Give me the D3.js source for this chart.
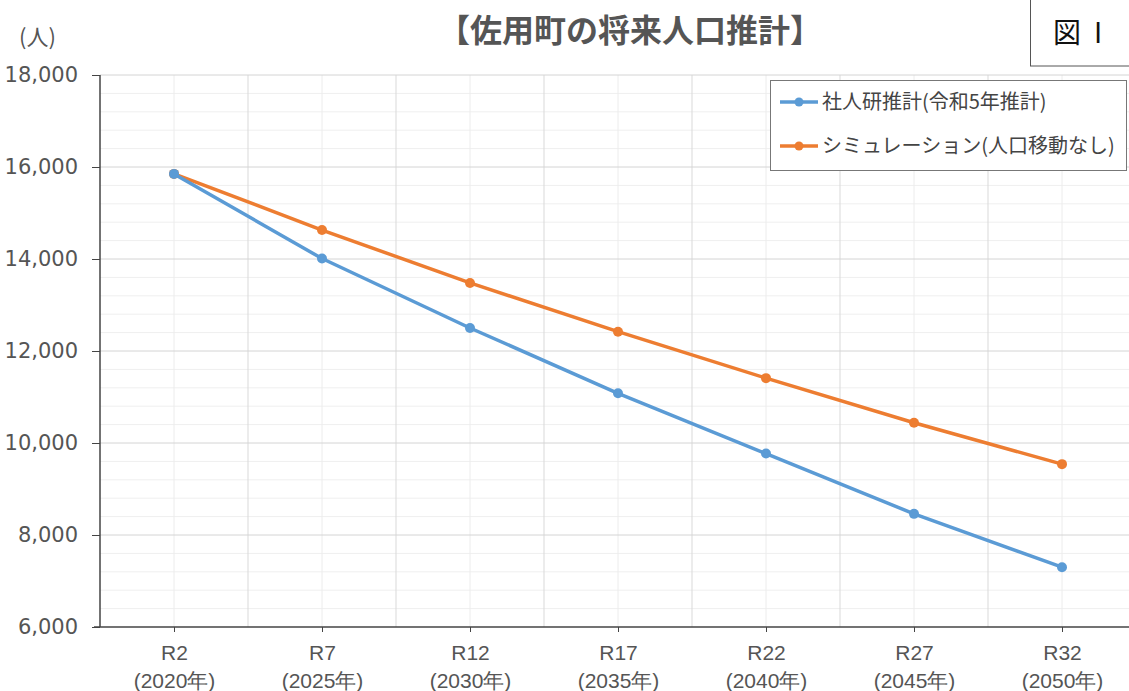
<!DOCTYPE html>
<html><head><meta charset="utf-8">
<script src="https://cdn.jsdelivr.net/npm/d3@7"></script>
<style>
html,body{margin:0;padding:0;background:#fff;overflow:hidden;}
svg{display:block;font-family:"Noto Sans CJK JP","Noto Sans",sans-serif;}
</style></head>
<body><svg id="c" width="1129" height="691"></svg>
<script>
const categories = ["R2","R7","R12","R17","R22","R27","R32"];
const years = ["(2020年)","(2025年)","(2030年)","(2035年)","(2040年)","(2045年)","(2050年)"];
const ipssValues = [15850, 14010, 12500, 11080, 9770, 8460, 7300];
const simValues = [15850, 14630, 13480, 12420, 11410, 10440, 9540];
const seriesNames = ["社人研推計(令和5年推計)", "シミュレーション(人口移動なし)"];
const yTicks = [6000, 8000, 10000, 12000, 14000, 16000, 18000];

const svg = d3.select("#c");
const L = 100, R = 1136, T = 75, B = 627;
const x = d3.scalePoint().domain(categories).range([L, R]).padding(0.5);
const y = d3.scaleLinear().domain([6000, 18000]).range([B, T]);
const step = x.step();

// minor horizontal gridlines
const minor = d3.range(6000, 18001, 400).filter(v => v % 2000 !== 0);
svg.append("g").selectAll("line").data(minor).join("line")
  .attr("x1", L).attr("x2", 1129).attr("y1", d => y(d)).attr("y2", d => y(d))
  .attr("stroke", "#efefef").attr("stroke-width", 1);
// vertical light lines at category centers
svg.append("g").selectAll("line").data(categories).join("line")
  .attr("x1", d => x(d)).attr("x2", d => x(d)).attr("y1", T).attr("y2", B)
  .attr("stroke", "#ececec").attr("stroke-width", 1);
// vertical boundary lines
svg.append("g").selectAll("line").data(categories.slice(1)).join("line")
  .attr("x1", d => x(d) - step / 2).attr("x2", d => x(d) - step / 2).attr("y1", T).attr("y2", B)
  .attr("stroke", "#d9d9d9").attr("stroke-width", 1);
// major horizontal gridlines
svg.append("g").selectAll("line").data(yTicks.slice(1)).join("line")
  .attr("x1", L).attr("x2", 1129).attr("y1", d => y(d)).attr("y2", d => y(d))
  .attr("stroke", "#d4d4d4").attr("stroke-width", 1);

// y axis
const yAxis = svg.append("g").attr("transform", `translate(${L},0)`)
  .call(d3.axisLeft(y).tickValues(yTicks).tickFormat(d3.format(",")).tickSize(8).tickPadding(14));
yAxis.select(".domain").attr("stroke", "#444").attr("stroke-width", 1.5).attr("d", `M-0,${T}V${B}`);
yAxis.selectAll(".tick line").attr("stroke", "#444");
yAxis.selectAll("text").attr("fill", "#555").style("font-size", "21px")
  .style("font-family", "'DejaVu Sans', sans-serif").attr("x", -22);

// x axis
const xAxis = svg.append("g").attr("transform", `translate(0,${B})`)
  .call(d3.axisBottom(x).tickSize(5).tickFormat(""));
xAxis.select(".domain").attr("stroke", "#444").attr("stroke-width", 1.5).attr("d", `M${L-6},0H1129`);
xAxis.selectAll(".tick line").attr("stroke", "#444");
const xl = xAxis.selectAll(".tick").append("text").attr("fill", "#555")
  .attr("text-anchor", "middle").style("font-size", "21px");
xl.append("tspan").attr("x", 0).attr("y", 33).text(d => d);
xl.append("tspan").attr("x", 0).attr("y", 61).text((d, i) => years[i]);

// lines
const line = d3.line().x((d, i) => x(categories[i])).y(d => y(d));
const series = [
  {vals: ipssValues, color: "#5b9bd5"},
  {vals: simValues, color: "#ed7d31"}
];
series.slice().reverse().forEach(s => {
  svg.append("path").datum(s.vals).attr("d", line).attr("fill", "none")
    .attr("stroke", s.color).attr("stroke-width", 3.5).attr("stroke-linejoin", "round");
  svg.append("g").selectAll("circle").data(s.vals).join("circle")
    .attr("cx", (d, i) => x(categories[i])).attr("cy", d => y(d)).attr("r", 5)
    .attr("fill", s.color);
});

// legend
svg.append("rect").attr("x", 770.5).attr("y", 80.5).attr("width", 356).attr("height", 90)
  .attr("fill", "#fff").attr("stroke", "#777").attr("stroke-width", 1);
series.forEach((s, i) => {
  const ly = 102 + i * 44;
  svg.append("line").attr("x1", 780).attr("x2", 818).attr("y1", ly).attr("y2", ly)
    .attr("stroke", s.color).attr("stroke-width", 3.5);
  svg.append("circle").attr("cx", 799).attr("cy", ly).attr("r", 4.5).attr("fill", s.color);
  svg.append("text").attr("x", 822).attr("y", ly + 7).attr("fill", "#444")
    .style("font-size", "20px").text(seriesNames[i]);
});

// title
svg.append("text").attr("x", 630).attr("y", 42).attr("text-anchor", "middle")
  .attr("fill", "#555").style("font-size", "32px").style("font-weight", "bold")
  .text("【佐用町の将来人口推計】");
// unit
svg.append("text").attr("x", 19).attr("y", 45).attr("fill", "#555")
  .style("font-size", "22px").text("(人)");
// figure box
svg.append("rect").attr("x", 1030.5).attr("y", -2).attr("width", 110).attr("height", 68)
  .attr("fill", "#fff").attr("stroke", "#555").attr("stroke-width", 1);
svg.append("text").attr("x", 1053).attr("y", 43).attr("fill", "#111")
  .style("font-size", "28px").text("図");
svg.append("text").attr("x", 1094).attr("y", 43).attr("fill", "#111")
  .style("font-size", "28px").text("I");
</script></body></html>
